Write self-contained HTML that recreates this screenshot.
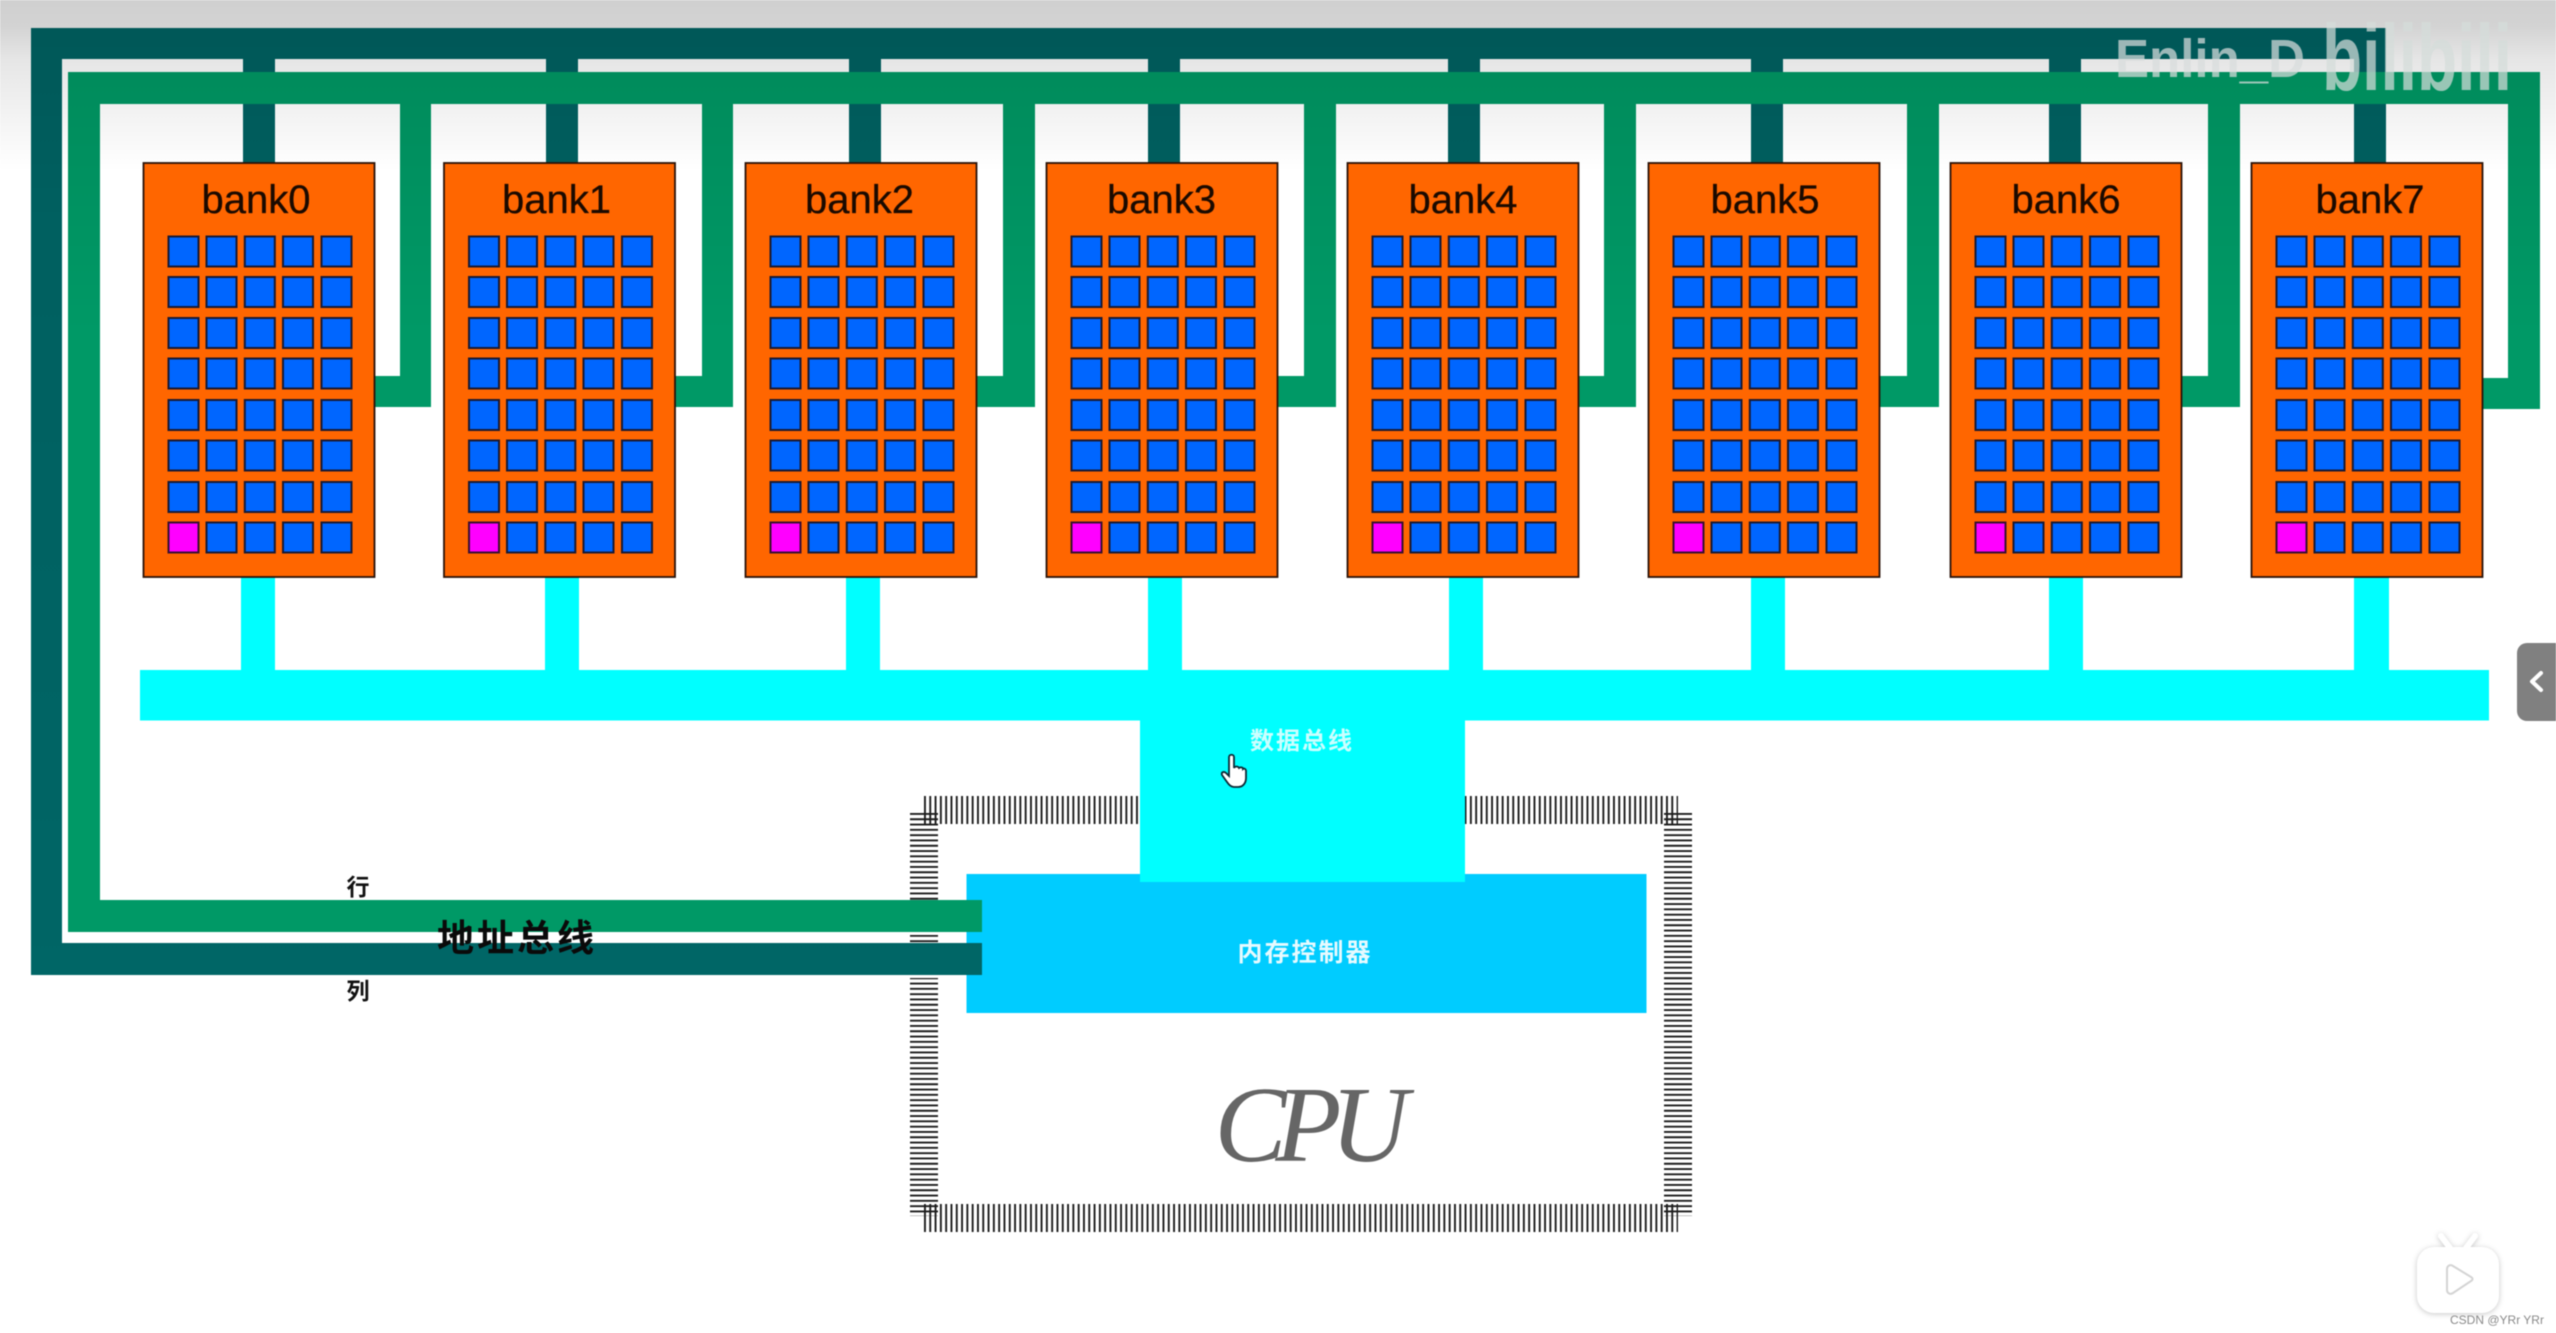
<!DOCTYPE html>
<html lang="zh">
<head>
<meta charset="utf-8">
<title>bank diagram</title>
<style>
html,body{margin:0;padding:0;background:#fff;width:2556px;height:1333px;overflow:hidden}
svg{display:block;filter:blur(.5px)}
text{font-family:"Liberation Sans","Noto Sans CJK SC",sans-serif}
</style>
</head>
<body>
<svg xmlns="http://www.w3.org/2000/svg" width="2556" height="1333" viewBox="0 0 2556 1333">
<defs>
<linearGradient id="bg" x1="0" y1="0" x2="0" y2="1">
<stop offset="0" stop-color="#d0d0d0"/><stop offset=".15" stop-color="#d3d3d3"/><stop offset=".35" stop-color="#e6e6e6"/><stop offset=".7" stop-color="#f4f4f4"/><stop offset="1" stop-color="#fff"/>
</linearGradient>
<linearGradient id="dk" gradientUnits="userSpaceOnUse" x1="0" y1="28" x2="0" y2="975">
<stop offset="0" stop-color="#005858"/><stop offset=".2" stop-color="#006060"/><stop offset="1" stop-color="#006666"/>
</linearGradient>
<linearGradient id="gr" gradientUnits="userSpaceOnUse" x1="0" y1="72" x2="0" y2="932">
<stop offset="0" stop-color="#008c5c"/><stop offset=".3" stop-color="#009966"/><stop offset="1" stop-color="#009966"/>
</linearGradient>
<g id="cellrow" stroke="#1a1a33" stroke-width="2" fill="#0066ff">
<rect x="25.500" width="30" height="30"/><rect x="63.500" width="30" height="30"/><rect x="101.800" width="30" height="30"/><rect x="140" width="30" height="30"/><rect x="178.500" width="30" height="30"/>
</g>
<g id="bank">
<rect x=".5" y="163" width="231" height="414" fill="#ff6600" stroke="#2a1208" stroke-width="1.8"/>
<use href="#cellrow" y="236.500"/><use href="#cellrow" y="277"/><use href="#cellrow" y="318"/><use href="#cellrow" y="358.500"/><use href="#cellrow" y="400"/><use href="#cellrow" y="440.500"/><use href="#cellrow" y="482"/><use href="#cellrow" y="522.500"/>
<rect x="25.500" y="522.500" width="30" height="30" fill="#ff00ff" stroke="#3a1030" stroke-width="2"/>
</g>
</defs>

<rect x="0" y="0" width="2556" height="170" fill="url(#bg)"/>

<!-- pins -->
<g stroke="#1c1c1c" stroke-width="28" stroke-dasharray="1.9 3.4" fill="none">
<line x1="924" y1="810" x2="1678" y2="810"/>
<line x1="924" y1="1218" x2="1678" y2="1218"/>
<line x1="924" y1="813" x2="924" y2="1216"/>
<line x1="1678" y1="813" x2="1678" y2="1216"/>
</g>
<g fill="#fff">
<rect x="905" y="932" width="36" height="3"/>
<rect x="905" y="975" width="36" height="3"/>
</g>

<!-- row bus (dark) -->
<g fill="url(#dk)">
<rect x="31" y="28" width="2354" height="31"/>
<rect x="31" y="28" width="31" height="947"/>
<rect x="31" y="943" width="951" height="32"/>
<rect x="243" y="28" width="32" height="136"/><rect x="546" y="28" width="32" height="136"/><rect x="849" y="28" width="32" height="136"/><rect x="1148" y="28" width="32" height="136"/><rect x="1448" y="28" width="32" height="136"/><rect x="1751" y="28" width="32" height="136"/><rect x="2049" y="28" width="32" height="136"/><rect x="2354" y="28" width="32" height="136"/>
</g>

<!-- column bus (green) -->
<g fill="url(#gr)">
<rect x="68" y="72" width="2472" height="32"/>
<rect x="68" y="72" width="32" height="860"/>
<rect x="68" y="900" width="914" height="32"/>
<rect x="400" y="72" width="31" height="335"/><rect x="702" y="72" width="31" height="335"/><rect x="1003" y="72" width="32" height="335"/><rect x="1304" y="72" width="32" height="335"/><rect x="1604" y="72" width="32" height="335"/><rect x="1907" y="72" width="32" height="335"/><rect x="2208" y="72" width="32" height="335"/><rect x="2508" y="72" width="32" height="337"/>
<rect x="370" y="376" width="61" height="31"/><rect x="672" y="376" width="61" height="31"/><rect x="974" y="376" width="61" height="31"/><rect x="1275" y="376" width="61" height="31"/><rect x="1575" y="376" width="61" height="31"/><rect x="1877" y="376" width="62" height="31"/><rect x="2178" y="376" width="62" height="31"/><rect x="2478" y="378" width="62" height="31"/>
</g>

<!-- data bus -->
<g fill="#00ffff">
<rect x="241" y="575" width="34" height="100"/><rect x="545" y="575" width="34" height="100"/><rect x="846" y="575" width="34" height="100"/><rect x="1148" y="575" width="34" height="100"/><rect x="1449" y="575" width="34" height="100"/><rect x="1751" y="575" width="34" height="100"/><rect x="2049" y="575" width="34" height="100"/><rect x="2354" y="575" width="35" height="100"/>
<rect x="140" y="670" width="2349" height="50.500"/>
</g>

<!-- controller -->
<rect x="966.500" y="874" width="680" height="139" fill="#00ccff"/>
<rect x="1140" y="700" width="325" height="182" fill="#00ffff"/>
<rect x="68" y="900" width="914" height="32" fill="url(#gr)"/>
<rect x="31" y="943" width="951" height="32" fill="url(#dk)"/>

<!-- banks -->
<use href="#bank" x="143"/><use href="#bank" x="443.500"/><use href="#bank" x="745"/><use href="#bank" x="1046"/><use href="#bank" x="1347"/><use href="#bank" x="1648"/><use href="#bank" x="1950"/><use href="#bank" x="2251"/>

<g font-size="40" fill="#1a0a00" text-anchor="middle" stroke="#1a0a00" stroke-width=".3">
<text x="256" y="213">bank0</text><text x="556.500" y="213">bank1</text><text x="859.500" y="213">bank2</text><text x="1161.500" y="213">bank3</text><text x="1463" y="213">bank4</text><text x="1765" y="213">bank5</text><text x="2066" y="213">bank6</text><text x="2370" y="213">bank7</text>
</g>

<!-- labels -->
<text x="358" y="895" font-size="23" font-weight="700" fill="#111" text-anchor="middle">行</text>
<text x="358" y="999" font-size="23" font-weight="700" fill="#111" text-anchor="middle">列</text>
<text x="517" y="951" font-size="37" font-weight="700" fill="#0a0a0a" text-anchor="middle" letter-spacing="3">地址总线</text>
<text x="1302" y="749" font-size="24" font-weight="700" fill="#ccffff" text-anchor="middle" letter-spacing="2">数据总线</text>
<text x="1305" y="961" font-size="25" font-weight="700" fill="#e6faff" text-anchor="middle" letter-spacing="2">内存控制器</text>
<text x="1306" y="1161" font-size="108" font-style="italic" fill="#666" text-anchor="middle" letter-spacing="-11" style="font-family:'Liberation Serif',serif">CPU</text>

<!-- cursor -->
<g transform="translate(-3 0)">
<path d="M1232 757c0-3 5-3 5 0v11c1-2 4-2 5 0 1-1 4-1 4 1 1-1 3 0 3 2v7c0 5-3 9-8 9h-4c-3 0-5-2-7-5l-5-7c-1-3 2-4 4-2l3 3z" fill="#fff" stroke="#0c2a36" stroke-width="1.8"/>
</g>

<!-- watermark -->
<text x="2115" y="77" font-size="54" font-weight="700" fill="#d8dcdc" fill-opacity=".72" textLength="190" lengthAdjust="spacingAndGlyphs">Enlin_D</text>
<text x="2322" y="90" font-size="94" font-weight="700" fill="#d4dcd9" fill-opacity=".72" textLength="190" lengthAdjust="spacingAndGlyphs">bilibili</text>

<!-- side tab -->
<path d="M2556 643h-29a10 10 0 0 0-10 10v58a10 10 0 0 0 10 10h29z" fill="#808080"/>
<path d="M2541 673l-9 8.500 9 8.500" fill="none" stroke="#fff" stroke-width="4" stroke-linecap="round" stroke-linejoin="round"/>

<!-- play badge -->
<g style="filter:drop-shadow(0 1px 3px rgba(0,0,0,.22))">
<path d="M2441 1236l9 12M2475 1236l-9 12" stroke="#fff" stroke-width="6" stroke-linecap="round"/>
<rect x="2417" y="1247" width="82" height="66" rx="17" fill="#fff"/>
</g>
<path d="M2447 1269c0-3 3-5 6-3l18 11c2 1 2 3 0 4l-18 12c-3 2-6 0-6-3z" fill="#fff" stroke="#d4d4d4" stroke-width="2"/>
<text x="2450" y="1324" font-size="12" fill="#8a8a8a">CSDN @YRr YRr</text>
</svg>
</body>
</html>
